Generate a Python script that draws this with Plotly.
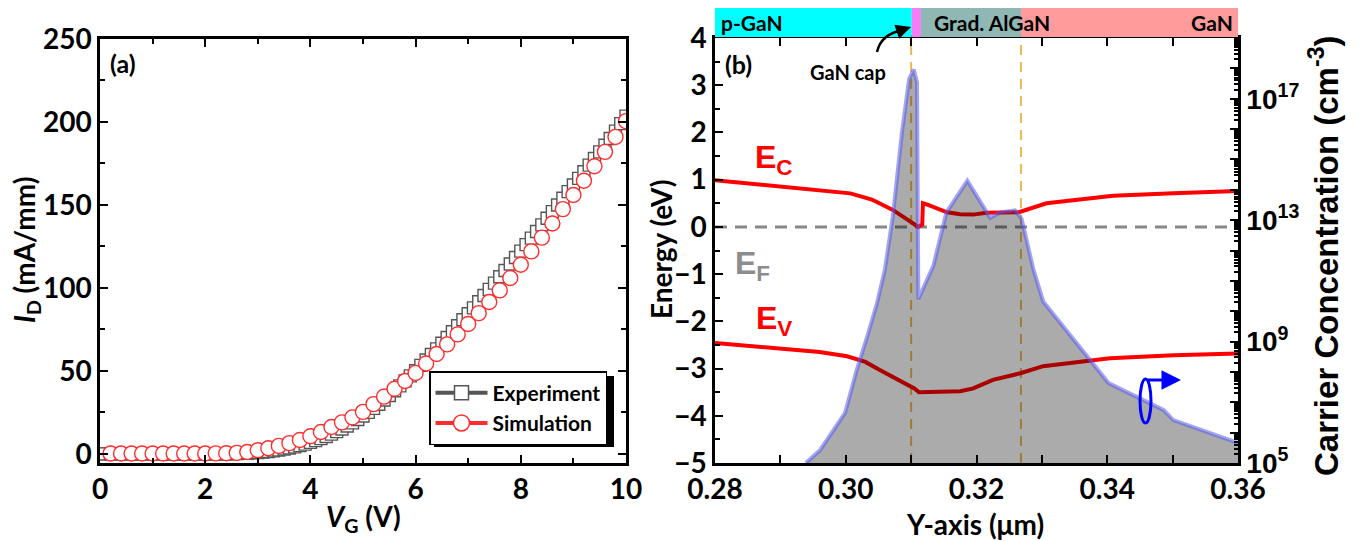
import plotly.graph_objects as go

# ---------------- data: panel (a) ----------------
vg_exp = [round(0.1 * i, 1) for i in range(101)]
id_exp = [0.0] * 25 + [
    0.1, 0.2, 0.3, 0.4, 0.6, 0.8, 1.1, 1.4, 1.8, 2.3,
    2.9, 3.5, 4.2, 5.0, 5.9, 6.9, 8.0, 9.2, 10.5, 11.9,
    13.4, 15.0, 16.8, 18.7, 20.7, 22.8, 25.0, 27.4, 29.9, 32.5,
    35.2, 38.0, 41.0, 44.0, 47.0, 50.1, 53.3, 56.6, 59.9, 63.3,
    66.7, 70.1, 73.6, 77.2, 80.8, 84.4, 88.0, 91.7, 95.4, 99.1,
    102.9, 106.7, 110.5, 114.4, 118.3, 122.2, 126.1, 130.0, 134.0, 138.0,
    142.0, 146.0, 150.0, 154.0, 158.0, 162.0, 166.0, 170.0, 174.0, 178.0,
    182.0, 186.0, 190.0, 194.5, 199.0, 203.5]

vg_sim = [round(0.2 * i, 1) for i in range(1, 51)]
id_sim = [
    0.2, 0.2, 0.2, 0.2, 0.2, 0.2, 0.2, 0.2, 0.2, 0.2,
    0.3, 0.4, 0.6, 1.1, 2.2, 3.4, 4.8, 6.5, 8.4, 10.6,
    13.2, 16.2, 19.0, 22.0, 25.3, 30.0, 34.5, 39.2, 43.9, 48.8,
    54.5, 60.2, 66.0, 72.0, 78.3, 84.8, 91.5, 98.5, 106.0, 114.0,
    122.0, 130.3, 138.8, 147.5, 156.0, 164.6, 173.3, 182.0, 191.0, 200.5]

# ---------------- data: panel (b) ----------------
ec_x = [0.280, 0.2900, 0.3007, 0.3040, 0.3072, 0.3095, 0.3111, 0.3117, 0.3118,
        0.3125, 0.3140, 0.3155, 0.3175, 0.3195, 0.3215, 0.3235, 0.3265,
        0.3307, 0.3409, 0.3501, 0.3600]
ec_y = [0.99, 0.86, 0.71, 0.58, 0.36, 0.15, 0.00, 0.05, 0.50,
        0.47, 0.38, 0.31, 0.27, 0.26, 0.30, 0.31, 0.31,
        0.50, 0.66, 0.71, 0.76]

ev_x = [0.280, 0.2960, 0.3002, 0.3030, 0.3052, 0.3080, 0.3098, 0.3105, 0.3112,
        0.3155, 0.3175, 0.3195, 0.3225, 0.3267, 0.3302, 0.3404, 0.3501, 0.3600]
ev_y = [-2.46, -2.65, -2.74, -2.86, -3.03, -3.24, -3.39, -3.42, -3.50,
        -3.48, -3.48, -3.42, -3.24, -3.10, -2.95, -2.78, -2.72, -2.68]

ef_level = 0.0
interfaces = [0.3100, 0.3268]

conc_x = [0.2939, 0.2961, 0.2999, 0.3017, 0.3033, 0.3048, 0.3060, 0.3072, 0.3086,
          0.3097, 0.3104, 0.3109, 0.3111, 0.3134, 0.3154, 0.3186, 0.3221, 0.3236,
          0.3259, 0.3269, 0.3287, 0.3302, 0.3402, 0.3486, 0.3501, 0.3600]
conc_y = [1.0e5, 2.7e5, 4.5e6, 1.2e8, 1.5e9, 1.9e10, 2.4e11, 1.35e13, 7.9e15,
          4.5e17, 9.1e17, 3.5e17, 2.5e10, 3.1e11, 1.8e13, 2.0e14, 1.2e13, 1.8e13,
          2.1e13, 1.1e13, 2.4e11, 2.1e10, 4.3e7, 5.6e6, 2.6e6, 4.6e5]

bar_layers = [("p-GaN", 0.2800, 0.3101, "#00FFFF"),
              ("", 0.3101, 0.3115, "#F77CF7"),
              ("Grad. AlGaN", 0.3115, 0.3268, "#8FB8B4"),
              ("GaN", 0.3268, 0.3600, "#FF9B9B")]

conc_ticks = [10 ** k for k in range(5, 20)]
conc_labels = ["10<sup>%d</sup>" % k if k in (5, 9, 13, 17) else "" for k in range(5, 20)]

# ---------------- helpers ----------------
W, H = 1360, 541
def PX(x): return x / W
def PY(y): return 1 - y / H

CAL = "Lato, 'Open Sans', sans-serif"
ARI = "'Liberation Sans', Arial, sans-serif"
GRAY = "rgb(85,85,85)"
RED = "rgb(255,45,45)"

fig = go.Figure()

# panel (a)
fig.add_trace(go.Scatter(x=vg_exp, y=id_exp, mode="markers", showlegend=False,
                         marker=dict(symbol="square", size=12, color="white",
                                     line=dict(color=GRAY, width=1.4)),
                         xaxis="x", yaxis="y"))
fig.add_trace(go.Scatter(x=vg_sim, y=id_sim, mode="markers", showlegend=False,
                         marker=dict(symbol="circle", size=15, color="white",
                                     line=dict(color=RED, width=1.4)),
                         xaxis="x", yaxis="y"))
fig.add_trace(go.Scatter(x=[None], y=[None], mode="lines+markers", name="Experiment",
                         line=dict(color=GRAY, width=4),
                         marker=dict(symbol="square", size=14, color="white",
                                     line=dict(color=GRAY, width=1.5)),
                         xaxis="x", yaxis="y"))
fig.add_trace(go.Scatter(x=[None], y=[None], mode="lines+markers", name="Simulation",
                         line=dict(color=RED, width=4),
                         marker=dict(symbol="circle", size=16, color="white",
                                     line=dict(color=RED, width=1.5)),
                         xaxis="x", yaxis="y"))

# panel (b)
for xi in interfaces:
    fig.add_trace(go.Scatter(x=[xi, xi], y=[-5, 4], mode="lines", showlegend=False,
                             line=dict(color="rgb(236,186,84)", width=2, dash="10px,7px"),
                             xaxis="x2", yaxis="y2"))
fig.add_trace(go.Scatter(x=[0.28, 0.36], y=[ef_level, ef_level], mode="lines", showlegend=False,
                         line=dict(color="rgb(135,135,135)", width=3, dash="12px,8px"),
                         xaxis="x2", yaxis="y2"))
fig.add_trace(go.Scatter(x=ec_x, y=ec_y, mode="lines", showlegend=False,
                         line=dict(color="rgb(255,0,0)", width=4),
                         xaxis="x2", yaxis="y2"))
fig.add_trace(go.Scatter(x=ev_x, y=ev_y, mode="lines", showlegend=False,
                         line=dict(color="rgb(255,0,0)", width=4),
                         xaxis="x2", yaxis="y2"))
fig.add_trace(go.Scatter(x=conc_x + [conc_x[-1], conc_x[0]], y=conc_y + [1e4, 1e4],
                         mode="lines", fill="toself", fillcolor="rgba(0,0,0,0.33)",
                         line=dict(width=0), showlegend=False,
                         xaxis="x2", yaxis="y3"))
fig.add_trace(go.Scatter(x=conc_x, y=conc_y, mode="lines", showlegend=False,
                         line=dict(color="rgba(90,90,240,0.55)", width=4),
                         xaxis="x2", yaxis="y3"))

tickfont_c = dict(family=CAL, size=28, color="black", weight="bold")
tickfont_a = dict(family=ARI, size=28, color="black", weight="bold")
common = dict(showline=True, linecolor="black", linewidth=2.5, ticks="inside",
              ticklen=8, tickwidth=2, tickcolor="black", showgrid=False, zeroline=False,
              automargin=False)
minor_style = dict(ticks="inside", ticklen=5, tickwidth=2, tickcolor="black", showgrid=False)

fig.update_layout(
    width=W, height=H, margin=dict(l=0, r=0, t=0, b=0, autoexpand=False),
    paper_bgcolor="white", plot_bgcolor="white",
    xaxis=dict(domain=[PX(100), PX(626)], range=[0, 10], tickmode="linear", tick0=0, dtick=2,
               minor=dict(dtick=1, **minor_style), mirror="allticks", anchor="y",
               tickfont=tickfont_c, **common),
    yaxis=dict(domain=[PY(463), PY(39)], range=[-5.5, 250], tickmode="linear", tick0=0, dtick=50,
               minor=dict(dtick=25, **minor_style), mirror="allticks", anchor="x",
               tickfont=tickfont_c, **common),
    xaxis2=dict(domain=[PX(715), PX(1238)], range=[0.28, 0.36],
                tickvals=[0.28, 0.30, 0.32, 0.34, 0.36],
                ticktext=["0.28", "0.30", "0.32", "0.34", "0.36"],
                minor=dict(tickvals=[0.29, 0.31, 0.33, 0.35], **minor_style),
                mirror="allticks", anchor="y2",
                tickfont=tickfont_c, **common),
    yaxis2=dict(domain=[PY(463), PY(38)], range=[-5, 4], tickmode="linear", tick0=0, dtick=1,
                minor=dict(dtick=0.5, **minor_style), mirror=False, anchor="x2",
                tickfont=tickfont_c, **common),
    yaxis3=dict(overlaying="y2", side="right", anchor="x2", type="log", range=[5, 19],
                tickvals=conc_ticks, ticktext=conc_labels,
                minor=dict(tickvals=[m * 10 ** k for k in range(5, 19) for m in range(2, 10)],
                           ticks="inside", ticklen=4, tickwidth=1.5, tickcolor="black", showgrid=False),
                tickfont=tickfont_a, **common),
    legend=dict(x=PX(429), y=PY(371), xanchor="left", yanchor="top",
                bgcolor="white", bordercolor="black", borderwidth=1.5,
                font=dict(family=CAL, size=21, color="black", weight="bold"),
                itemwidth=52, tracegroupgap=0),
    showlegend=True,
)

shapes = []
annotations = []

# legend shadow
shapes.append(dict(type="rect", xref="paper", yref="paper",
                   x0=PX(434), x1=PX(614), y0=PY(447), y1=PY(376),
                   fillcolor="black", line=dict(width=0), layer="above"))

# top layer bar
for name, x0, x1, col in bar_layers:
    shapes.append(dict(type="rect", xref="x2", yref="paper", x0=x0, x1=x1,
                       y0=PY(37), y1=PY(8), fillcolor=col, line=dict(width=0)))
barfont = dict(family=CAL, size=21, color="black", weight="bold")
annotations.append(dict(text=bar_layers[0][0], xref="paper", yref="paper", x=PX(719), y=PY(23),
                        xanchor="left", yanchor="middle", showarrow=False, font=barfont))
annotations.append(dict(text=bar_layers[2][0], xref="paper", yref="paper", x=PX(932), y=PY(23),
                        xanchor="left", yanchor="middle", showarrow=False, font=barfont))
annotations.append(dict(text=bar_layers[3][0], xref="paper", yref="paper", x=PX(1235), y=PY(23),
                        xanchor="right", yanchor="middle", showarrow=False, font=barfont))

# GaN cap label with curved arrow
annotations.append(dict(text="GaN cap", xref="paper", yref="paper", x=PX(848), y=PY(72),
                        xanchor="center", yanchor="middle", showarrow=False,
                        font=dict(family=CAL, size=20, color="black", weight="bold")))
shapes.append(dict(type="path", xref="paper", yref="paper",
                   path="M %f,%f Q %f,%f %f,%f" % (PX(877), PY(52), PX(881), PY(34), PX(903), PY(30)),
                   line=dict(color="black", width=2.5)))
annotations.append(dict(text="", xref="paper", yref="paper", x=PX(911), y=PY(27),
                        ax=-12, ay=4, axref="pixel", ayref="pixel",
                        showarrow=True, arrowhead=2, arrowsize=1.2, arrowwidth=2.5, arrowcolor="black"))

# band labels
annotations.append(dict(text="E<sub>C</sub>", xref="paper", yref="paper", x=PX(753), y=PY(160),
                        xanchor="left", yanchor="middle", showarrow=False,
                        font=dict(family=ARI, size=32, color="rgb(255,0,0)", weight="bold")))
annotations.append(dict(text="E<sub>F</sub>", xref="paper", yref="paper", x=PX(733), y=PY(265),
                        xanchor="left", yanchor="middle", showarrow=False,
                        font=dict(family=ARI, size=32, color="rgb(140,140,140)", weight="bold")))
annotations.append(dict(text="E<sub>V</sub>", xref="paper", yref="paper", x=PX(754), y=PY(320),
                        xanchor="left", yanchor="middle", showarrow=False,
                        font=dict(family=ARI, size=32, color="rgb(255,0,0)", weight="bold")))

# panel labels
annotations.append(dict(text="(a)", xref="paper", yref="paper", x=PX(108), y=PY(63),
                        xanchor="left", yanchor="middle", showarrow=False,
                        font=dict(family=CAL, size=25, color="black", weight="bold")))
annotations.append(dict(text="(b)", xref="paper", yref="paper", x=PX(723), y=PY(64),
                        xanchor="left", yanchor="middle", showarrow=False,
                        font=dict(family=CAL, size=25, color="black", weight="bold")))

# axis titles
annotations.append(dict(text="<i>I</i><sub>D</sub> (mA/mm)", xref="paper", yref="paper",
                        x=PX(26), y=PY(250), textangle=-90, xanchor="center", yanchor="middle",
                        showarrow=False, font=dict(family=CAL, size=28, color="black", weight="bold")))
annotations.append(dict(text="<i>V</i><sub>G</sub> (V)", xref="paper", yref="paper",
                        x=PX(363), y=PY(518), xanchor="center", yanchor="middle",
                        showarrow=False, font=dict(family=CAL, size=28, color="black", weight="bold")))
annotations.append(dict(text="Energy (eV)", xref="paper", yref="paper",
                        x=PX(661), y=PY(250), textangle=-90, xanchor="center", yanchor="middle",
                        showarrow=False, font=dict(family=CAL, size=28, color="black", weight="bold")))
annotations.append(dict(text="Y-axis (\u03bcm)", xref="paper", yref="paper",
                        x=PX(975), y=PY(524), xanchor="center", yanchor="middle",
                        showarrow=False, font=dict(family=CAL, size=28, color="black", weight="bold")))
annotations.append(dict(text="Carrier Concentration (cm<sup>-3</sup>)", xref="paper", yref="paper",
                        x=PX(1324), y=PY(256), textangle=-90, xanchor="center", yanchor="middle",
                        showarrow=False, font=dict(family=ARI, size=33, color="black", weight="bold")))

# rotation symbol pointing to right axis
shapes.append(dict(type="circle", xref="paper", yref="paper",
                   x0=PX(1140), x1=PX(1151), y0=PY(423), y1=PY(379),
                   line=dict(color="rgb(0,0,255)", width=3)))
annotations.append(dict(text="", xref="paper", yref="paper", x=PX(1181), y=PY(380),
                        ax=-35, ay=0, axref="pixel", ayref="pixel",
                        showarrow=True, arrowhead=2, arrowsize=1.3, arrowwidth=3,
                        arrowcolor="rgb(0,0,255)"))

fig.update_layout(shapes=shapes, annotations=annotations)
fig.write_html("out.html")
